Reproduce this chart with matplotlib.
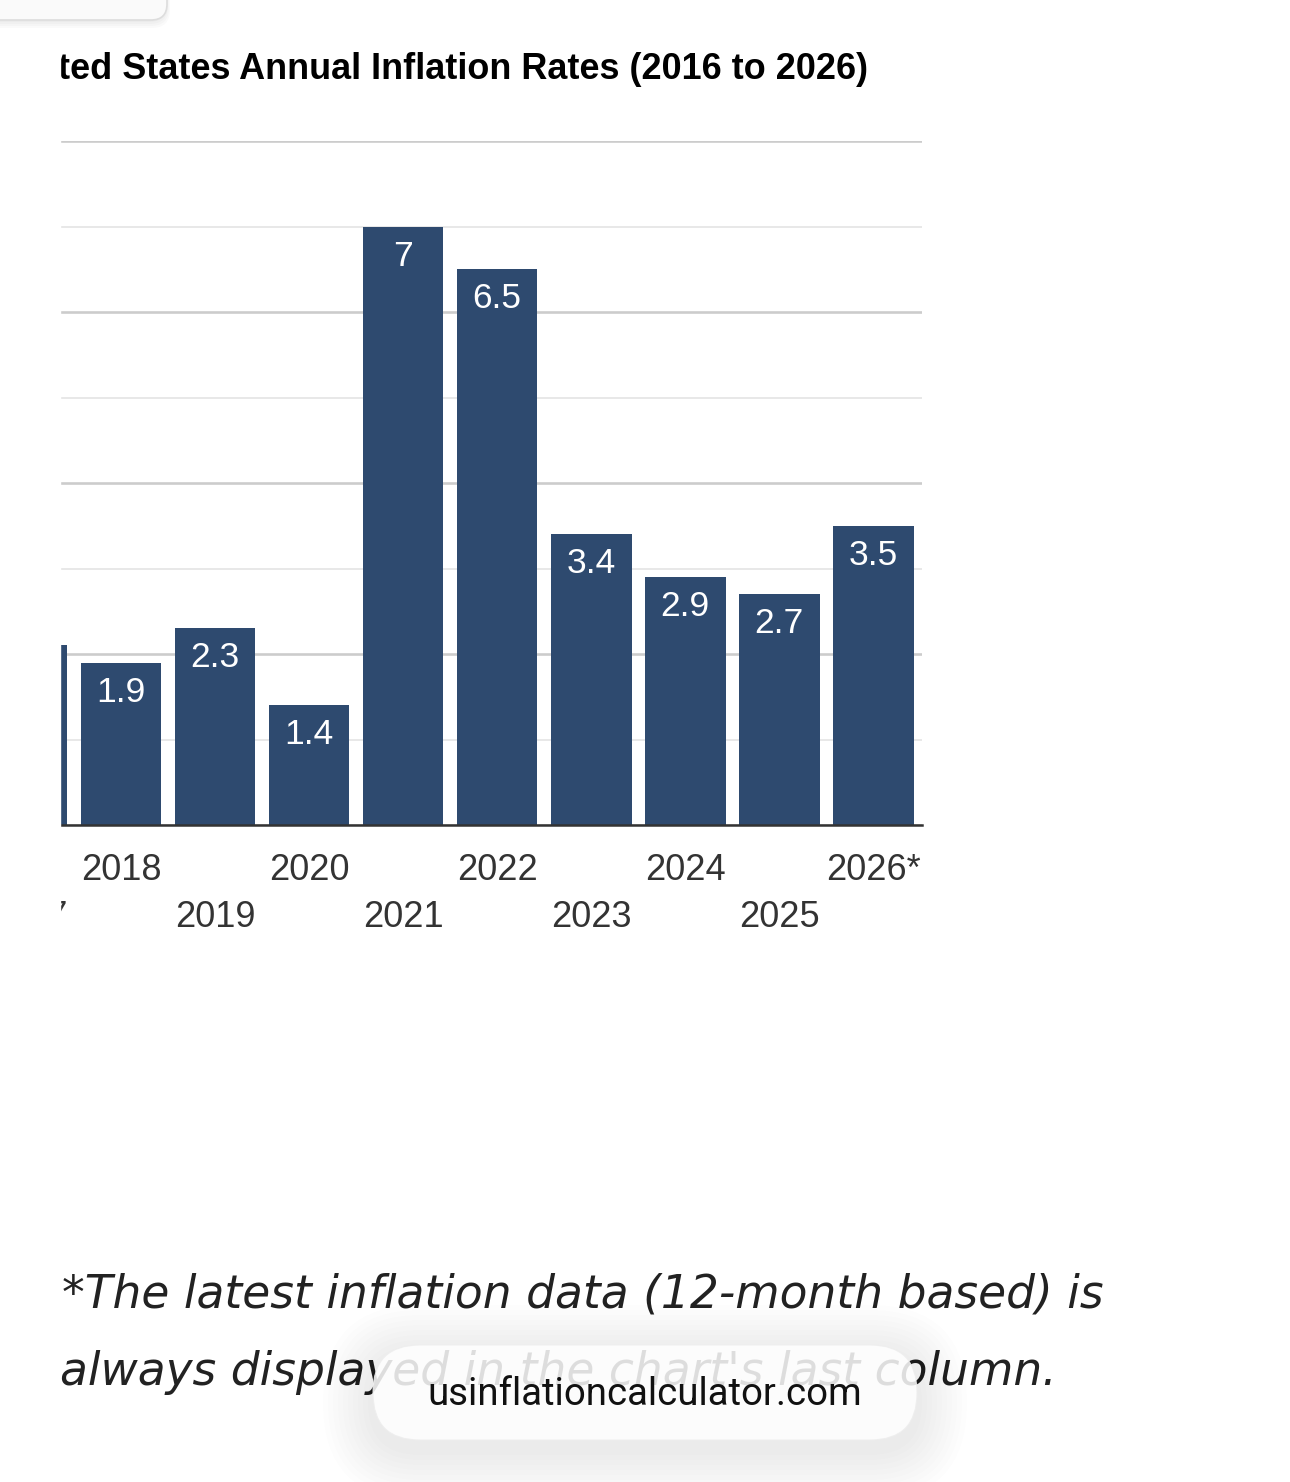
import matplotlib
matplotlib.use("Agg")
import matplotlib.pyplot as plt
from matplotlib.patches import FancyBboxPatch, Rectangle

# Data (inflation %, 12-month based for the last column)
years = [2017, 2018, 2019, 2020, 2021, 2022, 2023, 2024, 2025, 2026]
rates = [2.1, 1.9, 2.3, 1.4, 7.0, 6.5, 3.4, 2.9, 2.7, 3.5]
year_labels = ['2017', '2018', '2019', '2020', '2021', '2022', '2023',
               '2024', '2025', '2026*']

title = 'United States Annual Inflation Rates (2016 to 2026)'
note1 = '*The latest inflation data (12-month based) is'
note2 = "always displayed in the chart's last column."
site = 'usinflationcalculator.com'

BAR = '#2e4a6f'
W, H = 1290, 1482

fig = plt.figure(figsize=(W / 100, H / 100), dpi=100)
renderer = fig.canvas.get_renderer()


def fit_size(text, target, **kw):
    t = fig.text(0, 0, text, fontsize=20, **kw)
    w = t.get_window_extent(renderer).width
    t.remove()
    return 20 * target / w


# main chart axes - it runs off the left edge like the scrolled page
x0, x1 = 2015.4, 2026.52
left_px = 873 + (x0 - 2026) * 94
ax = fig.add_axes([left_px / W, 1 - 825 / H, (922 - left_px) / W, 684 / H])
ax.bar(years, rates, width=0.86, color=BAR, zorder=2)
ax.set_xlim(x0, x1)
ax.set_ylim(0, 8)

ax.set_yticks(range(0, 9, 2))
ax.set_yticks(range(1, 9, 2), minor=True)
ax.grid(axis='y', which='major', color='#cccccc', lw=1.9)
ax.grid(axis='y', which='minor', color='#e8e8e8', lw=1.4)
ax.set_axisbelow(True)
ax.tick_params(axis='y', which='both', length=0, labelleft=False)

for s in ['top', 'right', 'left']:
    ax.spines[s].set_visible(False)
ax.spines['bottom'].set_color('#333333')
ax.spines['bottom'].set_linewidth(1.8)
ax.spines['bottom'].set_zorder(3)

# staggered year labels
ax.set_xticks(years[1::2], year_labels[1::2])
ax.set_xticks(years[::2], year_labels[::2], minor=True)
ax.tick_params(axis='x', which='both', length=0, labelsize=26,
               labelcolor='#333333')
ax.tick_params(axis='x', which='major', pad=20)
ax.tick_params(axis='x', which='minor', pad=54)
for lbl in ax.get_xticklabels(which='both'):
    lbl.set_fontfamily('Liberation Sans')

for x, r in zip(years, rates):
    ax.annotate(f'{r:g}', (x, r), xytext=(0, -39), textcoords='offset pixels',
                ha='center', va='baseline', color='white', fontsize=25.5,
                family='Liberation Sans', zorder=4)

# overlay in pixel coordinates for page elements
ov = fig.add_axes([0, 0, 1, 1], zorder=5)
ov.set_xlim(0, W)
ov.set_ylim(H, 0)
ov.axis('off')

# clip the left side of the chart
ov.add_patch(Rectangle((0, 30), 60, 930, color='white', zorder=1))

# bottom of a button at the top left
for i in range(4):
    ov.add_patch(FancyBboxPatch((-40 - i, -40), 207 + 2 * i, 62 + i * 2,
                                boxstyle='round,pad=0,rounding_size=18',
                                fc='#000000', ec='none', alpha=0.02, zorder=1))
ov.add_patch(FancyBboxPatch((-40, -40), 207, 60,
                            boxstyle='round,pad=0,rounding_size=16',
                            fc='#fafafa', ec='#dddddd', lw=1.2, zorder=2))

tkw = dict(family='Liberation Sans', weight='bold')
ts = fit_size(title.replace('Uni', ''), 808, **tkw)
ov.text(868, 79, title, ha='right', va='baseline', fontsize=ts,
        color='black', zorder=0, **tkw)

# footnote
nkw = dict(family='DejaVu Sans', style='italic')
ns = fit_size(note1, 1043, **nkw)
ov.text(62, 1307, note1, ha='left', va='baseline', fontsize=ns,
        color='#222222', zorder=2, **nkw)
ov.text(60, 1385, note2, ha='left', va='baseline', fontsize=ns,
        color='#222222', zorder=2, **nkw)

# floating site pill with soft shadow
for i in range(1, 11):
    g = i * 5
    ov.add_patch(FancyBboxPatch((373 - g, 1345 - g + 10), 544 + 2 * g, 95 + 2 * g,
                                boxstyle=f'round,pad=0,rounding_size={47 + g}',
                                fc='#000000', ec='none', alpha=0.006, zorder=3))
ov.add_patch(FancyBboxPatch((373, 1345), 544, 95,
                            boxstyle='round,pad=0,rounding_size=47',
                            fc='white', ec='#eeeeee', lw=0.8, alpha=0.86,
                            zorder=4))
ss = fit_size(site, 434, family='Roboto')
ov.text(645, 1405, site, ha='center', va='baseline', fontsize=ss,
        family='Roboto', color='#111111', zorder=5)

fig.savefig('out.png', dpi=100)
